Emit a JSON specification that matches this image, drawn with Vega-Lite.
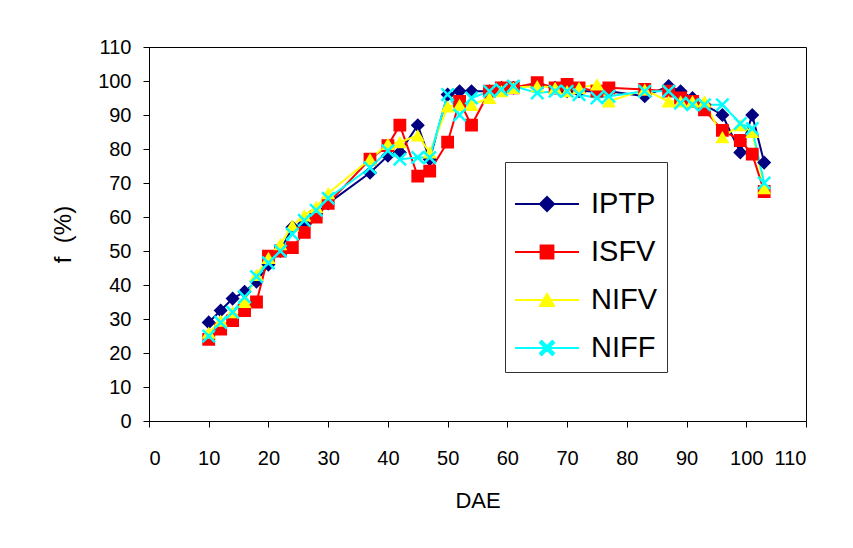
{
  "$schema": "https://vega.github.io/schema/vega-lite/v6.json",
  "width": 657,
  "height": 374,
  "autosize": {"type": "none"},
  "padding": {"left": 149, "top": 47, "right": 47, "bottom": 127},
  "background": "white",
  "config": {
    "view": {"stroke": "black", "strokeWidth": 1},
    "axis": {
      "grid": false,
      "domainColor": "black",
      "tickColor": "black",
      "labelColor": "black",
      "titleColor": "black",
      "labelFont": "Liberation Sans, sans-serif",
      "labelFontSize": 20,
      "titleFont": "Liberation Sans, sans-serif",
      "titleFontSize": 22,
      "titleFontWeight": "normal",
      "tickSize": 6
    },
    "legend": {
      "padding": 9,
      "strokeColor": "#333333",
      "fillColor": "white",
      "labelFont": "Liberation Sans, sans-serif",
      "labelFontSize": 29,
      "labelColor": "black",
      "symbolSize": 4096,
      "symbolStrokeWidth": 2,
      "symbolStrokeColor": "#000080",
      "labelOffset": 11,
      "rowPadding": -22
    }
  },
  "data": {
    "values": [
      {"series": "IPTP", "DAE": 10, "f": 29},
      {"series": "IPTP", "DAE": 12, "f": 32.5},
      {"series": "IPTP", "DAE": 14, "f": 36},
      {"series": "IPTP", "DAE": 16, "f": 38},
      {"series": "IPTP", "DAE": 18, "f": 41},
      {"series": "IPTP", "DAE": 20, "f": 46},
      {"series": "IPTP", "DAE": 22, "f": 50},
      {"series": "IPTP", "DAE": 24, "f": 57},
      {"series": "IPTP", "DAE": 26, "f": 58},
      {"series": "IPTP", "DAE": 28, "f": 61},
      {"series": "IPTP", "DAE": 30, "f": 64},
      {"series": "IPTP", "DAE": 37, "f": 73},
      {"series": "IPTP", "DAE": 40, "f": 78},
      {"series": "IPTP", "DAE": 42, "f": 79},
      {"series": "IPTP", "DAE": 45, "f": 87},
      {"series": "IPTP", "DAE": 47, "f": 77},
      {"series": "IPTP", "DAE": 50, "f": 96},
      {"series": "IPTP", "DAE": 52, "f": 97},
      {"series": "IPTP", "DAE": 54, "f": 97},
      {"series": "IPTP", "DAE": 57, "f": 97},
      {"series": "IPTP", "DAE": 59, "f": 98},
      {"series": "IPTP", "DAE": 61, "f": 98},
      {"series": "IPTP", "DAE": 65, "f": 99},
      {"series": "IPTP", "DAE": 68, "f": 98},
      {"series": "IPTP", "DAE": 70, "f": 97},
      {"series": "IPTP", "DAE": 72, "f": 97},
      {"series": "IPTP", "DAE": 75, "f": 97},
      {"series": "IPTP", "DAE": 77, "f": 97},
      {"series": "IPTP", "DAE": 83, "f": 95.5},
      {"series": "IPTP", "DAE": 87, "f": 98.5},
      {"series": "IPTP", "DAE": 89, "f": 97},
      {"series": "IPTP", "DAE": 91, "f": 95},
      {"series": "IPTP", "DAE": 93, "f": 93},
      {"series": "IPTP", "DAE": 96, "f": 90},
      {"series": "IPTP", "DAE": 99, "f": 79},
      {"series": "IPTP", "DAE": 101, "f": 90},
      {"series": "IPTP", "DAE": 103, "f": 76},
      {"series": "ISFV", "DAE": 10, "f": 24},
      {"series": "ISFV", "DAE": 12, "f": 27},
      {"series": "ISFV", "DAE": 14, "f": 29.5},
      {"series": "ISFV", "DAE": 16, "f": 32.5},
      {"series": "ISFV", "DAE": 18, "f": 35},
      {"series": "ISFV", "DAE": 20, "f": 48.5},
      {"series": "ISFV", "DAE": 22, "f": 50},
      {"series": "ISFV", "DAE": 24, "f": 51},
      {"series": "ISFV", "DAE": 26, "f": 55.5},
      {"series": "ISFV", "DAE": 28, "f": 60},
      {"series": "ISFV", "DAE": 30, "f": 64},
      {"series": "ISFV", "DAE": 37, "f": 77},
      {"series": "ISFV", "DAE": 40, "f": 81},
      {"series": "ISFV", "DAE": 42, "f": 87},
      {"series": "ISFV", "DAE": 45, "f": 72},
      {"series": "ISFV", "DAE": 47, "f": 73.5},
      {"series": "ISFV", "DAE": 50, "f": 82},
      {"series": "ISFV", "DAE": 52, "f": 94},
      {"series": "ISFV", "DAE": 54, "f": 87},
      {"series": "ISFV", "DAE": 57, "f": 97},
      {"series": "ISFV", "DAE": 59, "f": 98},
      {"series": "ISFV", "DAE": 61, "f": 98},
      {"series": "ISFV", "DAE": 65, "f": 99.5},
      {"series": "ISFV", "DAE": 68, "f": 98},
      {"series": "ISFV", "DAE": 70, "f": 99},
      {"series": "ISFV", "DAE": 72, "f": 98},
      {"series": "ISFV", "DAE": 75, "f": 97},
      {"series": "ISFV", "DAE": 77, "f": 98},
      {"series": "ISFV", "DAE": 83, "f": 97.5},
      {"series": "ISFV", "DAE": 87, "f": 97},
      {"series": "ISFV", "DAE": 89, "f": 95},
      {"series": "ISFV", "DAE": 91, "f": 94},
      {"series": "ISFV", "DAE": 93, "f": 91.5},
      {"series": "ISFV", "DAE": 96, "f": 85.5},
      {"series": "ISFV", "DAE": 99, "f": 82.5},
      {"series": "ISFV", "DAE": 101, "f": 78.5},
      {"series": "ISFV", "DAE": 103, "f": 67.5},
      {"series": "NIFV", "DAE": 10, "f": 26},
      {"series": "NIFV", "DAE": 12, "f": 29.5},
      {"series": "NIFV", "DAE": 14, "f": 32},
      {"series": "NIFV", "DAE": 16, "f": 35},
      {"series": "NIFV", "DAE": 18, "f": 43},
      {"series": "NIFV", "DAE": 20, "f": 48},
      {"series": "NIFV", "DAE": 22, "f": 52},
      {"series": "NIFV", "DAE": 24, "f": 57.5},
      {"series": "NIFV", "DAE": 26, "f": 60.5},
      {"series": "NIFV", "DAE": 28, "f": 63},
      {"series": "NIFV", "DAE": 30, "f": 67},
      {"series": "NIFV", "DAE": 37, "f": 77},
      {"series": "NIFV", "DAE": 40, "f": 81.5},
      {"series": "NIFV", "DAE": 42, "f": 82},
      {"series": "NIFV", "DAE": 45, "f": 84},
      {"series": "NIFV", "DAE": 47, "f": 79},
      {"series": "NIFV", "DAE": 50, "f": 92.5},
      {"series": "NIFV", "DAE": 52, "f": 93},
      {"series": "NIFV", "DAE": 54, "f": 93},
      {"series": "NIFV", "DAE": 57, "f": 95},
      {"series": "NIFV", "DAE": 59, "f": 97},
      {"series": "NIFV", "DAE": 61, "f": 98},
      {"series": "NIFV", "DAE": 65, "f": 98.5},
      {"series": "NIFV", "DAE": 68, "f": 98},
      {"series": "NIFV", "DAE": 70, "f": 97},
      {"series": "NIFV", "DAE": 72, "f": 98},
      {"series": "NIFV", "DAE": 75, "f": 99},
      {"series": "NIFV", "DAE": 77, "f": 94},
      {"series": "NIFV", "DAE": 83, "f": 97.5},
      {"series": "NIFV", "DAE": 87, "f": 94},
      {"series": "NIFV", "DAE": 89, "f": 94},
      {"series": "NIFV", "DAE": 91, "f": 94},
      {"series": "NIFV", "DAE": 93, "f": 94},
      {"series": "NIFV", "DAE": 96, "f": 83.5},
      {"series": "NIFV", "DAE": 99, "f": 87},
      {"series": "NIFV", "DAE": 101, "f": 85},
      {"series": "NIFV", "DAE": 103, "f": 68.5},
      {"series": "NIFF", "DAE": 10, "f": 25},
      {"series": "NIFF", "DAE": 12, "f": 29},
      {"series": "NIFF", "DAE": 14, "f": 32},
      {"series": "NIFF", "DAE": 16, "f": 36.5},
      {"series": "NIFF", "DAE": 18, "f": 42.5},
      {"series": "NIFF", "DAE": 20, "f": 46.5},
      {"series": "NIFF", "DAE": 22, "f": 50},
      {"series": "NIFF", "DAE": 24, "f": 55},
      {"series": "NIFF", "DAE": 26, "f": 59},
      {"series": "NIFF", "DAE": 28, "f": 62},
      {"series": "NIFF", "DAE": 30, "f": 65.5},
      {"series": "NIFF", "DAE": 37, "f": 74.5},
      {"series": "NIFF", "DAE": 40, "f": 79.5},
      {"series": "NIFF", "DAE": 42, "f": 77},
      {"series": "NIFF", "DAE": 45, "f": 77.5},
      {"series": "NIFF", "DAE": 47, "f": 77.5},
      {"series": "NIFF", "DAE": 50, "f": 96},
      {"series": "NIFF", "DAE": 52, "f": 90},
      {"series": "NIFF", "DAE": 54, "f": 95},
      {"series": "NIFF", "DAE": 57, "f": 97},
      {"series": "NIFF", "DAE": 59, "f": 97.5},
      {"series": "NIFF", "DAE": 61, "f": 98.5},
      {"series": "NIFF", "DAE": 65, "f": 96.5},
      {"series": "NIFF", "DAE": 68, "f": 97},
      {"series": "NIFF", "DAE": 70, "f": 97},
      {"series": "NIFF", "DAE": 72, "f": 96},
      {"series": "NIFF", "DAE": 75, "f": 95},
      {"series": "NIFF", "DAE": 77, "f": 95.5},
      {"series": "NIFF", "DAE": 83, "f": 97},
      {"series": "NIFF", "DAE": 87, "f": 97},
      {"series": "NIFF", "DAE": 89, "f": 93.5},
      {"series": "NIFF", "DAE": 91, "f": 93},
      {"series": "NIFF", "DAE": 93, "f": 93},
      {"series": "NIFF", "DAE": 96, "f": 93},
      {"series": "NIFF", "DAE": 99, "f": 87.5},
      {"series": "NIFF", "DAE": 101, "f": 86},
      {"series": "NIFF", "DAE": 103, "f": 70}
    ]
  },
  "encoding": {
    "x": {
      "field": "DAE",
      "type": "quantitative",
      "scale": {"domain": [0, 110], "nice": false, "zero": false},
      "axis": {"values": [0, 10, 20, 30, 40, 50, 60, 70, 80, 90, 100, 110], "title": "DAE", "titlePadding": 22, "labelPadding": 21}
    },
    "y": {
      "field": "f",
      "type": "quantitative",
      "scale": {"domain": [0, 110], "nice": false},
      "axis": {"values": [0, 10, 20, 30, 40, 50, 60, 70, 80, 90, 100, 110], "title": "f\u00a0 (%)", "titleFontSize": 24, "titlePadding": 22, "labelPadding": 12}
    },
    "color": {
      "field": "series",
      "type": "nominal",
      "scale": {"domain": ["IPTP", "ISFV", "NIFV", "NIFF"], "range": ["#000080", "#FF0000", "#FFFF00", "#00FFFF"]},
      "legend": {"title": null, "orient": "none", "legendX": 356, "legendY": 115}
    }
  },
  "layer": [
    {
      "mark": {"type": "line", "strokeWidth": 2},
      "encoding": {}
    },
    {
      "mark": {"type": "point", "filled": true, "opacity": 1, "size": 4096},
      "encoding": {
        "shape": {
          "field": "series",
          "type": "nominal",
          "scale": {"domain": ["IPTP", "ISFV", "NIFV", "NIFF"], "range": [
            "M-1,0L1,0M-0.22,0L0,-0.22L0.22,0L0,0.22Z",
            "M-1,0L1,0M-0.2,-0.2L0.2,-0.2L0.2,0.2L-0.2,0.2Z",
            "M-1,0L1,0M0,-0.19L0.22,0.19L-0.22,0.19Z",
            "M-1,0L1,0M0,-0.055L0.165,-0.22L0.22,-0.165L0.055,0L0.22,0.165L0.165,0.22L0,0.055L-0.165,0.22L-0.22,0.165L-0.055,0L-0.22,-0.165L-0.165,-0.22Z"
          ]},
          "legend": {"title": null, "orient": "none", "legendX": 356, "legendY": 115}
        },
        "stroke": {
          "field": "series",
          "type": "nominal",
          "scale": {"domain": ["IPTP", "ISFV", "NIFV", "NIFF"], "range": ["#000080", "#FF0000", "#FFFF00", "#00FFFF"]},
          "legend": {"title": null, "orient": "none", "legendX": 356, "legendY": 115}
        },
        "strokeWidth": {"value": 0}
      }
    }
  ]
}
